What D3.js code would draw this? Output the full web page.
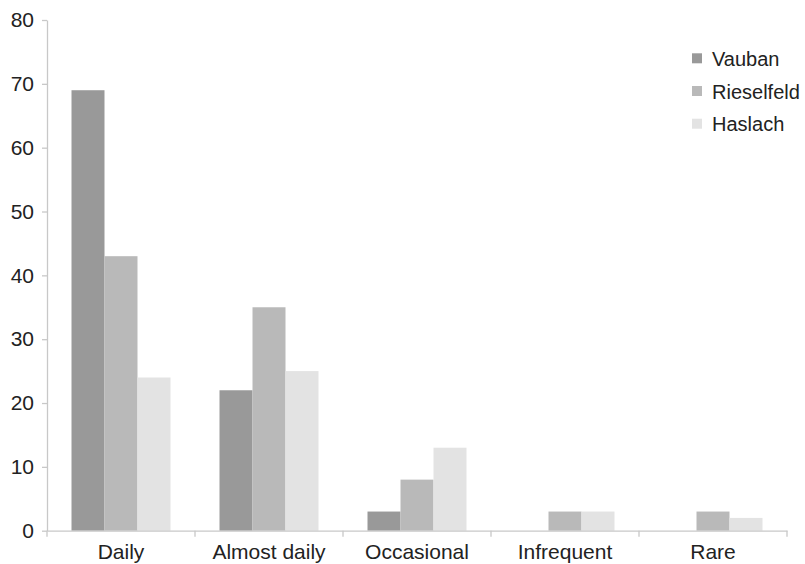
<!DOCTYPE html>
<html>
<head>
<meta charset="utf-8">
<script src="https://cdn.jsdelivr.net/npm/d3@7"></script>
<style>
html,body{margin:0;padding:0;background:#fff;}
svg{display:block;font-family:"Liberation Sans",Arial,Helvetica,sans-serif;}
</style>
</head>
<body>
<svg id="chart" width="805" height="564"></svg>
<script>
const categories = ["Daily", "Almost daily", "Occasional", "Infrequent", "Rare"];
const seriesNames = ["Vauban", "Rieselfeld", "Haslach"];
const vauban = [69, 22, 3, 0, 0];
const rieselfeld = [43, 35, 8, 3, 3];
const haslach = [24, 25, 13, 3, 2];
const yTicks = [0, 10, 20, 30, 40, 50, 60, 70, 80];
const colors = ["#999999", "#b9b9b9", "#e3e3e3"];

(function () {
const seriesValues = [vauban, rieselfeld, haslach];
const svg = d3.select("#chart");
const mLeft = 47, mRight = 787, mTop = 20, mBottom = 530.7;

const x = d3.scaleBand().domain(categories).range([mLeft, mRight]).paddingInner(0).paddingOuter(0);
const inner = d3.scaleBand().domain(seriesNames).range([24.5, x.bandwidth() - 24.5]).padding(0);
const y = d3.scaleLinear().domain([0, 80]).range([mBottom, mTop]);

// bars
categories.forEach((c, ci) => {
  seriesNames.forEach((s, si) => {
    const v = seriesValues[si][ci];
    if (v <= 0) return;
    svg.append("rect")
      .attr("x", x(c) + inner(s))
      .attr("y", y(v))
      .attr("width", inner.bandwidth())
      .attr("height", y(0) - y(v))
      .attr("fill", colors[si]);
  });
});

// y axis
const yAxis = svg.append("g").attr("transform", `translate(${mLeft},0)`)
  .call(d3.axisLeft(y).tickValues(yTicks).tickSize(5).tickPadding(8).tickSizeOuter(0));
yAxis.select(".domain").attr("stroke", "#c8c8c8").attr("stroke-width", 1.3);
yAxis.selectAll(".tick line").attr("stroke", "#c8c8c8").attr("stroke-width", 1.3);
yAxis.selectAll(".tick text").attr("font-size", 21).attr("fill", "#222")
  .attr("font-family", "Liberation Sans, Arial, sans-serif");

// x axis
const xAxis = svg.append("g").attr("transform", `translate(0,${mBottom})`)
  .call(d3.axisBottom(x).tickSize(0).tickPadding(13.5).tickSizeOuter(0));
xAxis.select(".domain").attr("stroke", "#c8c8c8").attr("stroke-width", 1.3);
xAxis.selectAll(".tick text").attr("font-size", 21).attr("fill", "#222")
  .attr("font-family", "Liberation Sans, Arial, sans-serif");
// boundary tick marks
const bounds = categories.map(c => x(c)).concat([x(categories[categories.length - 1]) + x.bandwidth()]);
svg.append("g").selectAll("line").data(bounds).join("line")
  .attr("x1", d => d).attr("x2", d => d)
  .attr("y1", mBottom).attr("y2", mBottom + 6)
  .attr("stroke", "#c8c8c8").attr("stroke-width", 1.3);

// legend
const legend = svg.append("g").attr("transform", "translate(692,53.3)");
seriesNames.forEach((s, i) => {
  const g = legend.append("g").attr("transform", `translate(0,${i * 32.7})`);
  g.append("rect").attr("width", 10).attr("height", 10).attr("fill", colors[i]);
  g.append("text").attr("x", 20).attr("y", 12.7).attr("font-size", 20).attr("fill", "#222").text(s);
});
})();
</script>
</body>
</html>
